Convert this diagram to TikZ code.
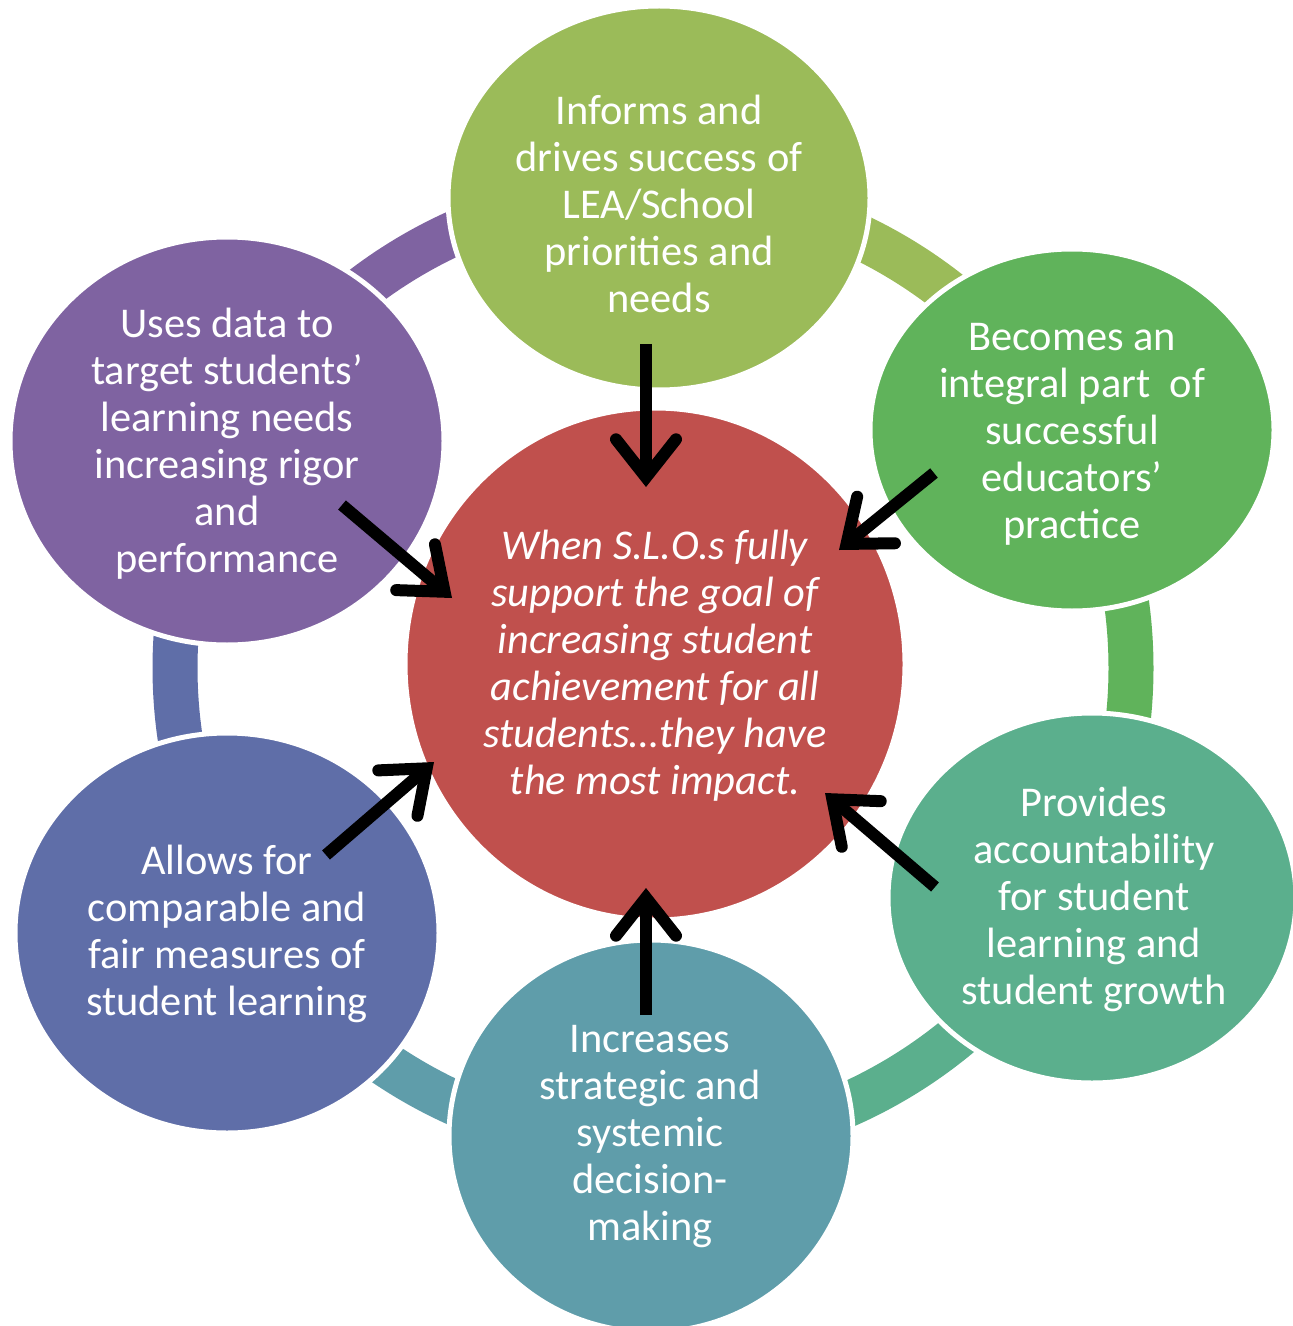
\documentclass[tikz,border=0pt]{standalone}
\usepackage{fontspec}
\setmainfont{Carlito}
\usetikzlibrary{shapes.geometric,arrows.meta}
\definecolor{cRed}{HTML}{C0504D}
\definecolor{cLime}{HTML}{9BBB59}
\definecolor{cGreen}{HTML}{60B35B}
\definecolor{cSea}{HTML}{5BAF8D}
\definecolor{cTeal}{HTML}{5F9DAA}
\definecolor{cBlue}{HTML}{5F6EA8}
\definecolor{cPurple}{HTML}{7F63A1}
\begin{document}
\begin{tikzpicture}[x=0.5pt,y=-0.5pt,
  bubble/.style={ellipse, draw=white, line width=2.5pt, inner sep=0pt},
  label/.style={text=white, align=center, inner sep=0pt,
    font=\fontsize{21.2}{23.5}\selectfont},
  ringarc/.style={line width=22.5pt},
  push/.style={line width=6pt,
    -{Straight Barb[length=19pt,width=30pt,line cap=round,line join=miter]}}]
\useasboundingbox (0,0) rectangle (1293,1326);
\clip (0,0) rectangle (1293,1326);

% ring behind the bubbles
\coordinate (ring) at (653,668);
\draw[ringarc, cPurple] (ring) ++(-152:478) arc[start angle=-152, end angle=-90, radius=478];
\draw[ringarc, cLime]   (ring) ++(-90:478)  arc[start angle=-90,  end angle=-30, radius=478];
\draw[ringarc, cGreen]  (ring) ++(-30:478)  arc[start angle=-30,  end angle=28,  radius=478];
\draw[ringarc, cSea]    (ring) ++(28:478)   arc[start angle=28,   end angle=90,  radius=478];
\draw[ringarc, cTeal]   (ring) ++(90:478)   arc[start angle=90,   end angle=148, radius=478];
\draw[ringarc, cBlue]   (ring) ++(148:478)  arc[start angle=148,  end angle=208, radius=478];

% bubbles
\node[bubble, fill=cLime,   minimum width=211pt, minimum height=192pt] (top)  at (659,198) {};
\node[bubble, fill=cGreen,  minimum width=202pt, minimum height=181pt] (rtop) at (1072,430) {};
\node[bubble, fill=cSea,    minimum width=204pt, minimum height=185pt] (rbot) at (1092,898) {};
\node[bubble, fill=cTeal,   minimum width=202pt, minimum height=196pt] (bot)  at (651,1136) {};
\node[bubble, fill=cBlue,   minimum width=212pt, minimum height=200pt] (lbot) at (227,933) {};
\node[bubble, fill=cPurple, minimum width=217pt, minimum height=204pt] (ltop) at (227,441) {};
\node[bubble, fill=cRed,    minimum width=250pt, minimum height=256pt] (core) at (655,664) {};

% texts
\node[label] (ttop) at (659,204) {Informs and\\drives success of\\LEA/School\\priorities and\\needs};
\node[label] (trtop) at (1072,434) {Becomes an\\integral part\ \ of\\successful\\educators’\\practice};
\node[label] (trbot) at (1094,899) {Provides\\accountability\\for student\\learning and\\student growth};
\node[label] (tbot) at (650,1137) {Increases\\strategic and\\systemic\\decision-\\making};
\node[label] (tlbot) at (227,934) {Allows for\\comparable and\\fair measures of\\student learning};
\node[label] (tltop) at (227,444) {Uses data to\\target students’\\learning needs\\increasing rigor\\and\\performance};
\node[label, font=\fontsize{21.2}{23.5}\selectfont\itshape] (tcore) at (655,666)
  {When S.L.O.s fully\\support the goal of\\increasing student\\achievement for all\\students…they have\\the most impact.};

% arrows pointing into the core
\coordinate (a1s) at (646,344);  \coordinate (a1e) at (646,487);
\coordinate (a2s) at (934,473);  \coordinate (a2e) at (839,550);
\coordinate (a3s) at (935,887);  \coordinate (a3e) at (825,793);
\coordinate (a4s) at (646,1015); \coordinate (a4e) at (646,888);
\coordinate (a5s) at (326,855);  \coordinate (a5e) at (434,762);
\coordinate (a6s) at (342,505);  \coordinate (a6e) at (452,598);
\foreach \i in {1,...,6} \draw[push] (a\i s) -- (a\i e);
\end{tikzpicture}
\end{document}
